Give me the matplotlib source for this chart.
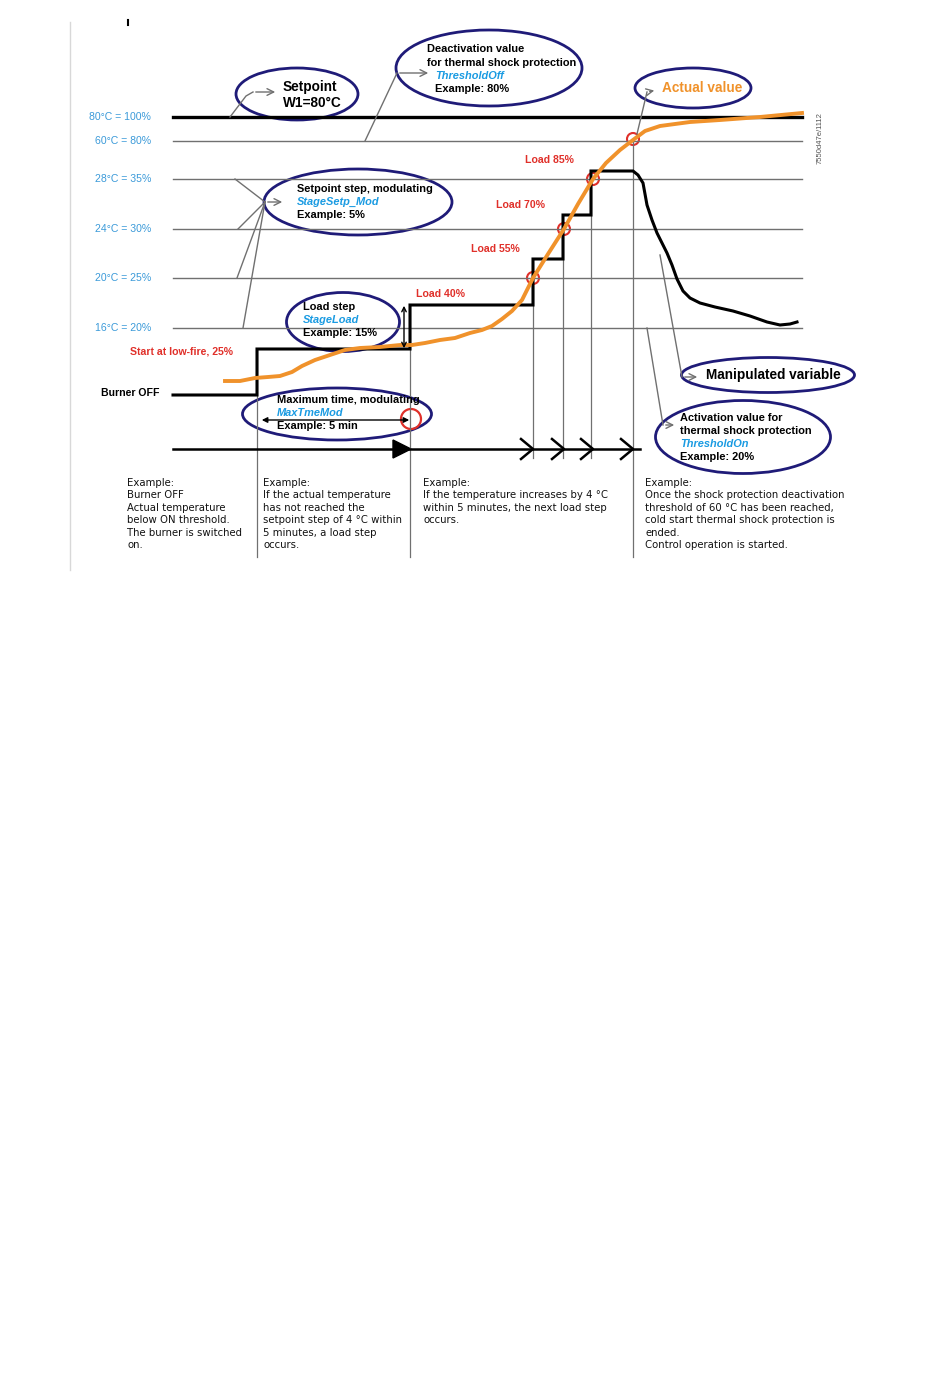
import matplotlib.pyplot as plt
from matplotlib.patches import Ellipse, Circle, Polygon

plt.rcParams['font.family'] = ['Liberation Sans', 'DejaVu Sans']

# diagram coordinates (x = time axis, y = level, drawn top-down)
level_labels = ['80°C = 100%', '60°C = 80%', '28°C = 35%', '24°C = 30%', '20°C = 25%', '16°C = 20%']
level_y = [117, 141, 179, 229, 278, 328]

# manipulated variable (burner load, step line then fall-off)
mv_x = [173, 257, 257, 410, 410, 533, 533, 563, 563, 591, 591, 633, 638, 643, 647, 652, 657, 662, 667, 672,
        677, 683, 690, 700, 715, 733, 750, 767, 780, 790, 797]
mv_y = [395, 395, 349, 349, 305, 305, 259, 259, 215, 215, 171, 171, 175, 183, 205, 220, 233, 243, 253, 265,
        279, 291, 298, 303, 307, 311, 316, 322, 325, 324, 322]

# actual value (temperature)
act_x = [225, 240, 255, 268, 280, 292, 302, 315, 330, 345, 360, 380, 400, 412, 425, 440, 455, 470, 482, 492,
         502, 512, 522, 533, 548, 564, 578, 593, 606, 620, 633, 645, 660, 690, 720, 760, 802]
act_y = [381, 381, 378, 377, 376, 372, 366, 360, 355, 350, 348, 347, 345, 345, 343, 340, 338, 333, 330, 326,
         319, 311, 300, 278, 254, 229, 204, 179, 163, 150, 140, 131, 126, 122, 120, 117, 113]

load_labels = ['Load 85%', 'Load 70%', 'Load 55%', 'Load 40%']
load_pos = [(549, 160), (521, 205), (495, 249), (440, 294)]

cross_x = [533, 564, 593, 633]
cross_y = [278, 229, 179, 139]

step_x = [257, 410, 533, 563, 591, 633]
step_top = [349, 305, 278, 229, 179, 141]
step_bottom = [557, 557, 458, 458, 458, 557]

notes_x = [127, 263, 423, 645]
notes = [
    ['Example:', 'Burner OFF', 'Actual temperature', 'below ON threshold.', 'The burner is switched', 'on.'],
    ['Example:', 'If the actual temperature', 'has not reached the', 'setpoint step of 4 °C within',
     '5 minutes, a load step', 'occurs.'],
    ['Example:', 'If the temperature increases by 4 °C', 'within 5 minutes, the next load step', 'occurs.'],
    ['Example:', 'Once the shock protection deactivation', 'threshold of 60 °C has been reached,',
     'cold start thermal shock protection is', 'ended.', 'Control operation is started.'],
]

BLUE = '#3b9ad9'
CYAN = '#1a9be2'
RED = '#e0302a'
ORANGE = '#f0922b'
NAVY = '#1f1b78'
GRAY = '#707070'

fig = plt.figure(figsize=(9.5, 13.79), dpi=100)
ax = fig.add_axes([0, 0, 1, 1])
ax.set_xlim(0, 950)
ax.set_ylim(1379, 0)
ax.axis('off')

# frame line on the left and little dot
ax.plot([70, 70], [22, 570], color='#d8d8d8', lw=1)
ax.plot([128, 128], [20, 25], color='black', lw=1.5)

# level lines + labels
for i, (lab, y) in enumerate(zip(level_labels, level_y)):
    if i == 0:
        ax.plot([173, 802], [y, y], color='black', lw=2.4)
    else:
        ax.plot([173, 802], [y, y], color=GRAY, lw=1)
    ax.text(151, y, lab, color=BLUE, fontsize=7.6, ha='right', va='center')

# vertical step lines
for x, t, b in zip(step_x, step_top, step_bottom):
    ax.plot([x, x], [t, b], color=GRAY, lw=0.9)

# time axis
ax.plot([173, 640], [449, 449], color='black', lw=1.8)
ax.add_patch(Polygon([[393, 440], [393, 458], [411, 449]], closed=True, color='black'))
for x in cross_x:
    ax.plot([x - 12, x, x - 12], [439, 449, 459], color='black', lw=1.8)

# manipulated variable and actual value
ax.plot(mv_x, mv_y, color='black', lw=2.2, solid_joinstyle='miter')
ax.plot(act_x, act_y, color=ORANGE, lw=2.8)

for x, y in zip(cross_x, cross_y):
    ax.add_patch(Circle((x, y), 6, fill=False, ec=RED, lw=1.5))

for lab, (x, y) in zip(load_labels, load_pos):
    ax.text(x, y, lab, color=RED, fontsize=7.6, fontweight='bold', ha='center', va='center')
ax.text(182, 351, 'Start at low-fire, 25%', color=RED, fontsize=7.6, fontweight='bold', ha='center', va='center')
ax.text(101, 393, 'Burner OFF', color='black', fontsize=7.6, fontweight='bold', ha='left', va='center')


def bubble(cx, cy, w, h, lines, xs, y0, step, size=7.9):
    ax.add_patch(Ellipse((cx, cy), w, h, fill=False, ec=NAVY, lw=2))
    for k, (txt, kind) in enumerate(lines):
        if kind == 'param':
            ax.text(xs[k], y0 + k * step, txt, color=CYAN, fontsize=size, fontweight='bold',
                    style='italic', va='center')
        else:
            ax.text(xs[k], y0 + k * step, txt, color='black', fontsize=size, fontweight='bold', va='center')


def pointer(pts, tip):
    xs = [p[0] for p in pts]
    ys = [p[1] for p in pts]
    ax.plot(xs, ys, color=GRAY, lw=1)
    ax.annotate('', xy=tip, xytext=pts[-1],
                arrowprops=dict(arrowstyle='->', color=GRAY, lw=1, mutation_scale=12))


# Setpoint
ax.add_patch(Ellipse((297, 94), 122, 52, fill=False, ec=NAVY, lw=2))
ax.text(283, 87, 'Setpoint', fontsize=9.8, fontweight='bold', va='center')
ax.text(283, 103, 'W1=80°C', fontsize=9.8, fontweight='bold', va='center')
pointer([(230, 117), (246, 96), (253, 92)], (278, 92))

# Deactivation value
bubble(489, 68, 186, 76, [('Deactivation value', 't'), ('for thermal shock protection', 't'),
                          ('ThresholdOff', 'param'), ('Example: 80%', 't')],
       [427, 427, 435, 435], 49, 13.5)
pointer([(365, 141), (397, 73)], (431, 73))

# Actual value
ax.add_patch(Ellipse((693, 88), 116, 40, fill=False, ec=NAVY, lw=2))
ax.text(662, 88, 'Actual value', color=ORANGE, fontsize=9.8, fontweight='bold', va='center')
pointer([(637, 134), (647, 92)], (657, 90))

# Setpoint step
bubble(358, 202, 188, 66, [('Setpoint step, modulating', 't'), ('StageSetp_Mod', 'param'),
                           ('Example: 5%', 't')], [297, 297, 297], 189, 13)
for p in [(235, 179), (238, 229), (237, 278), (243, 328)]:
    ax.plot([p[0], 265], [p[1], 202], color=GRAY, lw=1)
ax.annotate('', xy=(285, 202), xytext=(265, 202),
            arrowprops=dict(arrowstyle='->', color=GRAY, lw=1, mutation_scale=12))

# Load step
bubble(343, 322, 113, 59, [('Load step', 't'), ('StageLoad', 'param'), ('Example: 15%', 't')],
       [303, 303, 303], 307, 13)
ax.annotate('', xy=(404, 303), xytext=(404, 351),
            arrowprops=dict(arrowstyle='<->', color='black', lw=1, mutation_scale=8))

# Maximum time
bubble(337, 414, 189, 52, [('Maximum time, modulating', 't'), ('MaxTmeMod', 'param'),
                           ('Example: 5 min', 't')], [277, 277, 277], 400, 13)
ax.annotate('', xy=(259, 420), xytext=(412, 420),
            arrowprops=dict(arrowstyle='<|-|>', color='black', lw=1, mutation_scale=8))
ax.add_patch(Circle((411, 419), 10, fill=False, ec=RED, lw=1.6))

# Manipulated variable
ax.add_patch(Ellipse((768, 375), 173, 35, fill=False, ec=NAVY, lw=2))
ax.text(706, 375, 'Manipulated variable', fontsize=9.8, fontweight='bold', va='center')
pointer([(660, 255), (682, 377)], (700, 377))

# Activation value
bubble(743, 437, 175, 73, [('Activation value for', 't'), ('thermal shock protection', 't'),
                           ('ThresholdOn', 'param'), ('Example: 20%', 't')],
       [680, 680, 680, 680], 418, 13)
pointer([(647, 328), (663, 425)], (677, 425))

# drawing number
ax.text(820, 138, '7550d47e/1112', rotation=90, fontsize=5.5, color='#555555', ha='center', va='center')

# explanation notes under the chart
for x, lines in zip(notes_x, notes):
    for k, line in enumerate(lines):
        ax.text(x, 483 + k * 12.4, line, fontsize=7.3, color='#111111', va='center',
                family='DejaVu Sans')

fig.savefig('out.png', dpi=100)
